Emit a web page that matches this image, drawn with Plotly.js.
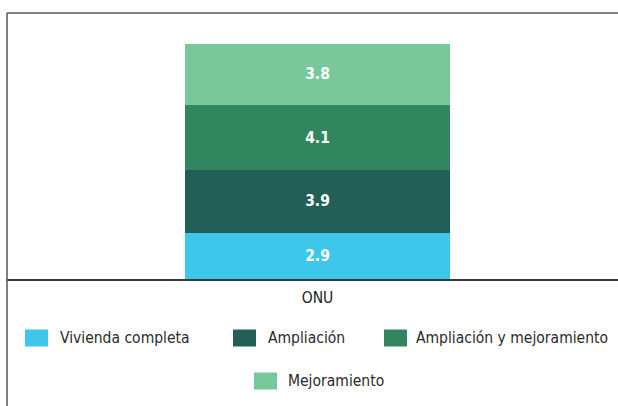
<!DOCTYPE html>
<html>
<head>
<meta charset="utf-8">
<script src="https://cdn.plot.ly/plotly-3.0.1.min.js"></script>
<style>html,body{margin:0;padding:0;background:#fff;}#chart{width:618px;height:406px;}</style>
</head>
<body>
<div id="chart"></div>
<script>
const categories = ["ONU"];
const seriesNames = ["Vivienda completa", "Ampliación", "Ampliación y mejoramiento", "Mejoramiento"];
const viviendaCompleta = [2.9];
const ampliacion = [3.9];
const ampliacionMejoramiento = [4.1];
const mejoramiento = [3.8];
const seriesValues = [viviendaCompleta, ampliacion, ampliacionMejoramiento, mejoramiento];
const colors = ["#3FC6EB", "#225F56", "#32865F", "#78C89B"];

const W = 618, H = 406;
const mL = 7, mR = 0, mT = 13, mB = 127;
const pw = W - mL - mR, ph = H - mT - mB;
const px2x = p => (p - mL) / pw;
const px2y = p => (H - mB - p) / ph;

const font = "'DejaVu Sans Condensed', 'Liberation Sans Narrow', 'DejaVu Sans', sans-serif";

const traces = seriesNames.map((name, i) => ({
  type: "bar",
  name: name,
  x: categories,
  y: seriesValues[i],
  marker: {color: colors[i], line: {width: 0}},
  text: seriesValues[i].map(v => v.toFixed(1)),
  textposition: "inside",
  insidetextanchor: "middle",
  textfont: {family: font, size: 15.5, color: "#ffffff", weight: "bold"},
  hoverinfo: "skip",
  showlegend: false
}));

// Manual legend layout (positions only)
const legendPos = [
  {sx: 25, sy: 338, tx: 58},
  {sx: 233, sy: 338, tx: 266},
  {sx: 384, sy: 338, tx: 414},
  {sx: 254, sy: 381, tx: 286}
];
const swW = 23, swH = 17;
const shapes = [
  {type: "line", xref: "paper", yref: "paper", x0: px2x(7), x1: px2x(640), y0: px2y(13), y1: px2y(13), line: {color: "#555555", width: 1.5}},
  {type: "line", xref: "paper", yref: "paper", x0: px2x(7), x1: px2x(7), y0: px2y(13), y1: px2y(420), line: {color: "#555555", width: 1.5}}
];
const annotations = [];
seriesNames.forEach((name, i) => {
  const p = legendPos[i];
  shapes.push({type: "rect", xref: "paper", yref: "paper",
    x0: px2x(p.sx), x1: px2x(p.sx + swW), y0: px2y(p.sy - swH / 2), y1: px2y(p.sy + swH / 2),
    fillcolor: colors[i], line: {width: 0}});
  annotations.push({xref: "paper", yref: "paper", x: px2x(p.tx), y: px2y(p.sy),
    xanchor: "left", yanchor: "middle", showarrow: false, text: name,
    font: {family: font, size: 15.5, color: "#2b2b2b"}});
});

const total = viviendaCompleta[0] + ampliacion[0] + ampliacionMejoramiento[0] + mejoramiento[0];
const barTopPx = 44;
const yMax = total * ph / (H - mB - barTopPx);

const barCenterPx = 317.5, barWidthPx = 265;
const x0 = -px2x(barCenterPx);

const layout = {
  width: W, height: H,
  margin: {l: mL, r: mR, t: mT, b: mB, pad: 0},
  paper_bgcolor: "#ffffff", plot_bgcolor: "#ffffff",
  barmode: "stack",
  bargap: 1 - barWidthPx / pw,
  showlegend: false,
  xaxis: {type: "category", range: [x0, x0 + 1], showgrid: false, zeroline: false,
    showline: true, linecolor: "#3a3a3a", linewidth: 1.5, ticks: "", ticklabelstandoff: 4,
    tickfont: {family: font, size: 15.5, color: "#222222"}, fixedrange: true},
  yaxis: {range: [0, yMax], visible: false, fixedrange: true},
  shapes: shapes,
  annotations: annotations,
  uniformtext: {mode: false}
};

Plotly.newPlot("chart", traces, layout, {displayModeBar: false, staticPlot: true});
</script>
</body>
</html>
